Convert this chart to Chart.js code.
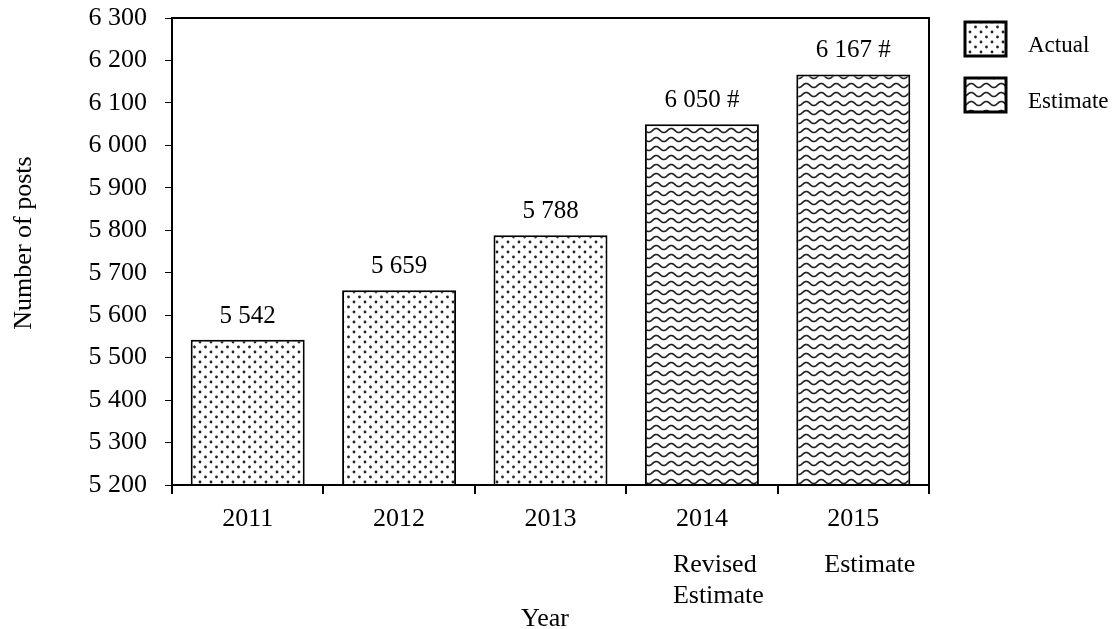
<!DOCTYPE html>
<html>
<head>
<meta charset="utf-8">
<script src="https://cdn.jsdelivr.net/npm/chart.js@4"></script>
<style>
  html, body { margin: 0; padding: 0; background: #fff; }
  #wrap { width: 1120px; height: 629px; }
</style>
</head>
<body>
<div id="wrap"><canvas id="myChart" width="1120" height="629"></canvas></div>
<script>
// data
const years = ['2011', '2012', '2013', '2014', '2015'];
const posts = [5542, 5659, 5788, 6050, 6167];
const kinds = ['Actual', 'Actual', 'Actual', 'Estimate', 'Estimate'];
const labelSuffix = ['', '', '', ' #', ' #'];
const subLabels = [[], [], [], ['Revised', 'Estimate'], ['Estimate']];
const yTicks = { min: 5200, max: 6300, step: 100 };
const legendItems = ['Actual', 'Estimate'];

const FONT = "'Liberation Serif', 'Times New Roman', serif";

function fmt(n) {
    return String(n).replace(/\B(?=(\d{3})+(?!\d))/g, ' ');
}

// pola titik
function makeDots() {
    const c = document.createElement('canvas');
    c.width = 11; c.height = 10;
    const g = c.getContext('2d');
    g.fillStyle = '#fff';
    g.fillRect(0, 0, 11, 10);
    g.fillStyle = '#222';
    [[2, 2], [7.5, 7]].forEach(([x, y]) => {
        g.beginPath();
        g.arc(x, y, 1.4, 0, Math.PI * 2);
        g.fill();
    });
    return g.createPattern(c, 'repeat');
}

// pola gelombang
function makeWaves() {
    const c = document.createElement('canvas');
    c.width = 15; c.height = 9;
    const g = c.getContext('2d');
    g.fillStyle = '#fff';
    g.fillRect(0, 0, 15, 9);
    g.strokeStyle = '#222';
    g.lineWidth = 1.7;
    g.beginPath();
    for (let x = -1; x <= 16; x += 0.5) {
        const y = 4.5 + 2 * Math.sin(2 * Math.PI * x / 15);
        if (x === -1) g.moveTo(x, y); else g.lineTo(x, y);
    }
    g.stroke();
    return g.createPattern(c, 'repeat');
}

const patterns = { Actual: makeDots(), Estimate: makeWaves() };

const extras = {
    id: 'extras',
    afterDraw(chart) {
        const ctx = chart.ctx;
        const a = chart.chartArea;
        const xs = chart.scales.x;
        ctx.save();

        // kotak area plot
        ctx.strokeStyle = '#000';
        ctx.lineWidth = 2;
        ctx.strokeRect(a.left, a.top, a.right - a.left, a.bottom - a.top);

        ctx.fillStyle = '#000';

        // label nilai di atas batang
        ctx.font = '25px ' + FONT;
        ctx.textAlign = 'center';
        ctx.textBaseline = 'alphabetic';
        chart.getDatasetMeta(0).data.forEach((bar, i) => {
            ctx.fillText(fmt(posts[i]) + labelSuffix[i], bar.x, bar.y - 17);
        });

        // sub label tahun
        ctx.font = '26px ' + FONT;
        ctx.textAlign = 'left';
        subLabels.forEach((lines, i) => {
            const x = xs.getPixelForValue(i) - 29;
            lines.forEach((t, k) => ctx.fillText(t, x, 572 + k * 31));
        });

        // judul sumbu
        ctx.textAlign = 'center';
        ctx.fillText('Year', 545, 626);
        ctx.save();
        ctx.translate(31, 243);
        ctx.rotate(-Math.PI / 2);
        ctx.fillText('Number of posts', 0, 0);
        ctx.restore();

        // legenda
        ctx.font = '23px ' + FONT;
        ctx.textAlign = 'left';
        legendItems.forEach((name, i) => {
            const y = 22 + i * 56;
            ctx.fillStyle = patterns[name];
            ctx.fillRect(965, y, 41, 34);
            ctx.strokeStyle = '#000';
            ctx.lineWidth = 3;
            ctx.strokeRect(965, y, 41, 34);
            ctx.fillStyle = '#000';
            ctx.fillText(name, 1028, y + 30);
        });

        ctx.restore();
    }
};

const ctx = document.getElementById('myChart').getContext('2d');

new Chart(ctx, {
    type: 'bar',
    data: {
        labels: years,
        datasets: [{
            label: 'Number of posts',
            data: posts,
            backgroundColor: kinds.map(k => patterns[k]),
            borderColor: '#000',
            borderWidth: 2,
            borderSkipped: false,
            categoryPercentage: 1,
            barPercentage: 0.753
        }]
    },
    options: {
        responsive: false,
        animation: false,
        devicePixelRatio: 1,
        layout: { padding: { top: 18, right: 191, left: 0, bottom: 0 } },
        plugins: {
            legend: { display: false },
            tooltip: { enabled: false }
        },
        scales: {
            x: {
                afterFit(s) { s.height = 144; s.paddingLeft = 0; s.paddingRight = 0; },
                grid: { offset: true, drawOnChartArea: false, tickLength: 9, color: '#000', lineWidth: 2 },
                border: { display: true, color: '#000', width: 2 },
                ticks: { color: '#000', font: { family: FONT, size: 26 }, padding: 10, maxRotation: 0 }
            },
            y: {
                min: yTicks.min,
                max: yTicks.max,
                afterFit(s) { s.width = 172; s.paddingTop = 0; s.paddingBottom = 0; },
                grid: { drawOnChartArea: false, tickLength: 7, color: '#000', lineWidth: 1 },
                border: { display: true, color: '#000', width: 2 },
                ticks: {
                    stepSize: yTicks.step,
                    color: '#000',
                    font: { family: FONT, size: 26 },
                    padding: 18,
                    callback: v => fmt(v)
                }
            }
        }
    },
    plugins: [extras]
});
</script>
</body>
</html>
